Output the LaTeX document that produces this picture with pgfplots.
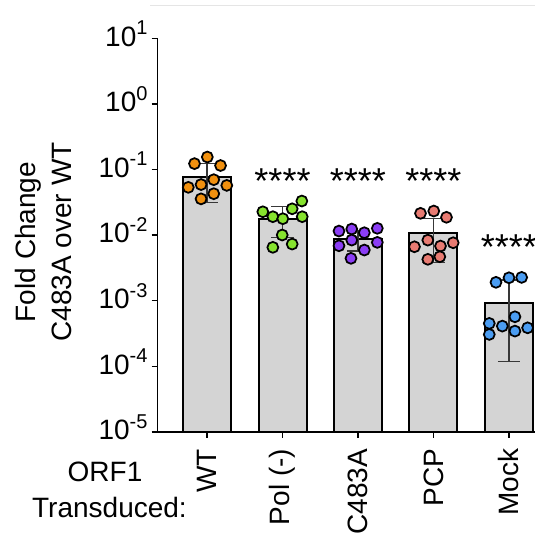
\documentclass[border=0pt]{standalone}
\usepackage{pgfplots}
\usepackage{pgfplotstable}
\pgfplotsset{compat=1.18}
\usepackage{fontspec}
\setmainfont{Liberation Sans}
\definecolor{cWT}{HTML}{F0900F}
\definecolor{cPol}{HTML}{86E22E}
\definecolor{cC}{HTML}{8B3DF5}
\definecolor{cPCP}{HTML}{E87B72}
\definecolor{cMock}{HTML}{4B9DF2}
\definecolor{barfill}{HTML}{D4D4D4}
\newcommand{\sprs}[1]{\raisebox{8.5pt}{\fontsize{15}{15}\selectfont #1}}

\pgfplotstableread{
x y
0 0.0776
1 0.0176
2 0.0086
3 0.0109
4 0.000933
}\means

\pgfplotstableread{
x y
0.004 0.155
-0.166 0.123
0.179 0.115
0.089 0.070
-0.248 0.0535
-0.079 0.059
0.262 0.0573
0.089 0.0428
-0.079 0.0357
}\ptsWT

\pgfplotstableread{
x y
0.739 0.0227
0.872 0.0191
1.004 0.0178
1.128 0.0252
1.256 0.0331
1.261 0.0191
0.996 0.01004
1.128 0.00731
0.872 0.00652
}\ptsPol

\pgfplotstableread{
x y
1.748 0.01154
1.917 0.01239
2.084 0.01089
2.256 0.0127
1.748 0.00689
1.917 0.00841
2.084 0.00593
2.256 0.00776
1.907 0.00443
}\ptsC

\pgfplotstableread{
x y
2.828 0.0215
3.004 0.0233
3.172 0.0187
2.925 0.0084
2.748 0.00665
3.093 0.00682
3.261 0.00766
2.925 0.00428
3.084 0.00469
}\ptsPCP

\pgfplotstableread{
x y
3.828 0.00191
4.000 0.00224
4.168 0.00227
4.079 0.00057
3.739 0.000452
3.912 0.000411
4.079 0.000345
4.247 0.000387
3.739 0.000307
}\ptsMock

\begin{document}
\begin{tikzpicture}
\begin{axis}[
  at={(118.3pt,75.75pt)}, anchor=south west,
  scale only axis, width=286.7pt, height=295.3pt,
  ymode=log, ymin=1e-5, ymax=10, log origin y=infty,
  xmin=-0.653, xmax=4.411,
  axis x line=bottom, axis y line=left,
  axis line style={line width=1.1pt, -},
  tick align=outside, major tick length=4.5pt,
  tick style={line width=1.1pt, black},
  yminorticks=false,
  xtick={0,1,2,3,4},
  xticklabels={WT,Pol (-),C483A,PCP,Mock},
  ytick={1e-5,1e-4,1e-3,1e-2,1e-1,1,10},
  yticklabels={10\sprs{-5},10\sprs{-4},10\sprs{-3},10\sprs{-2},10\sprs{-1},10\sprs{0},10\sprs{1}},
  ticklabel style={font=\fontsize{21}{25}\selectfont},
  xticklabel style={rotate=90, anchor=east, inner sep=0pt},
  xticklabel shift=8pt,
  yticklabel style={anchor=east, inner sep=0pt, yshift=3.5pt},
  yticklabel shift=3pt,
  clip=false,
]
\addplot[ybar, bar width=36pt, fill=barfill, draw=black, line width=1.5pt] table[x=x,y=y] {\means};

\pgfplotsset{pts/.style={only marks, mark=*, mark size=4.1pt, mark options={draw=black, line width=1.3pt, fill=#1}}}
\addplot[pts=cWT] table[x=x,y=y] {\ptsWT};
\addplot[pts=cPol] table[x=x,y=y] {\ptsPol};
\addplot[pts=cC] table[x=x,y=y] {\ptsC};
\addplot[pts=cPCP] table[x=x,y=y] {\ptsPCP};
\addplot[pts=cMock] table[x=x,y=y] {\ptsMock};

\pgfplotsset{eb/.style={draw=black!78, line width=1pt, mark=none}}
% WT
\addplot[eb] coordinates {(0,0.0316) (0,0.124)};
\addplot[eb] coordinates {(-0.146,0.124) (0.146,0.124)};
\addplot[eb] coordinates {(-0.146,0.0316) (0.146,0.0316)};
% Pol
\addplot[eb] coordinates {(1,0.0091) (1,0.0271)};
\addplot[eb] coordinates {(0.854,0.0271) (1.146,0.0271)};
\addplot[eb] coordinates {(0.854,0.0091) (1.146,0.0091)};
% C483A
\addplot[eb] coordinates {(2,0.0057) (2,0.0116)};
\addplot[eb] coordinates {(1.854,0.0116) (2.146,0.0116)};
\addplot[eb] coordinates {(1.854,0.0057) (2.146,0.0057)};
% PCP
\addplot[eb] coordinates {(3,0.0038) (3,0.018)};
\addplot[eb] coordinates {(2.854,0.018) (3.146,0.018)};
\addplot[eb] coordinates {(2.854,0.0038) (3.146,0.0038)};
% Mock
\addplot[eb] coordinates {(4,0.00012) (4,0.00207)};
\addplot[eb] coordinates {(3.854,0.00207) (4.146,0.00207)};
\addplot[eb] coordinates {(3.854,0.00012) (4.146,0.00012)};

\tikzset{stars/.style={font=\fontsize{27}{27}\selectfont, anchor=north, inner sep=0pt}}
\node[stars] at (axis cs:1,0.102) {****};
\node[stars] at (axis cs:2,0.102) {****};
\node[stars] at (axis cs:3,0.102) {****};
\node[stars] at (axis cs:4,0.0104) {****};
\end{axis}
\node[rotate=90, align=center, font=\fontsize{21}{27.5}\selectfont, inner sep=0pt] at (32.5pt,218.25pt) {Fold Change\\C483A over WT};
\node[anchor=base, font=\fontsize{21}{25}\selectfont, inner sep=0pt] at (78.75pt,38.5pt) {ORF1};
\node[anchor=base, font=\fontsize{21}{25}\selectfont, inner sep=0pt] at (82.1pt,12pt) {Transduced:};
\draw[black!10, line width=0.75pt] (112.5pt,395.25pt) -- (401.25pt,395.25pt);
\pgfresetboundingbox
\useasboundingbox (0,0) rectangle (401.25pt,399.75pt);
\end{tikzpicture}
\end{document}
